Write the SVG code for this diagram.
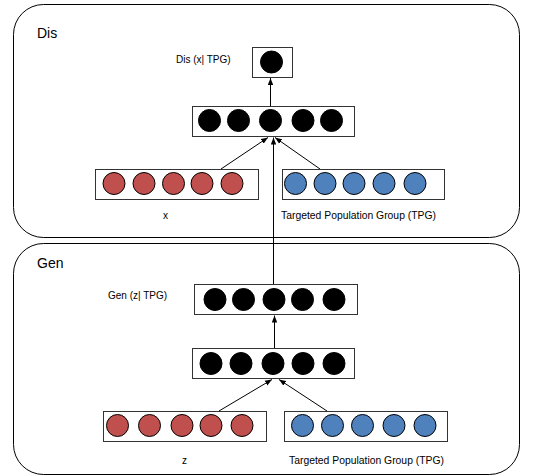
<svg xmlns="http://www.w3.org/2000/svg" width="535" height="476" viewBox="0 0 535 476">
<style>
.panel{fill:#fff;stroke:#000;stroke-width:1}
.box{fill:#fff;stroke:#333;stroke-width:1}
.k{fill:#000;stroke:#000;stroke-width:1}
.r{fill:#c0504d;stroke:#000;stroke-width:1}
.b{fill:#4f81bd;stroke:#000;stroke-width:1}
.t{font-family:"Liberation Sans",Arial,sans-serif;font-size:10px;fill:#000}
.w{font-family:"Liberation Sans",Arial,sans-serif;font-size:10px;fill:#000}
.h{font-family:"Liberation Sans",Arial,sans-serif;font-size:14px;fill:#000}
.c{stroke:#000;stroke-width:1;fill:none;marker-end:url(#ah)}
</style>
<defs>
<marker id="ah" viewBox="0 0 7 6" refX="7" refY="3" markerWidth="7" markerHeight="6" markerUnits="userSpaceOnUse" orient="auto">
<path d="M0,0.3 L7,3 L0,5.7 Z" fill="#000"/>
</marker>
</defs>
<g id="dis-panel">
<rect class="panel" x="13.5" y="4.5" width="506" height="233" rx="30" ry="30"/>
<text class="h" x="37" y="38">Dis</text>
</g>
<g id="gen-panel">
<rect class="panel" x="13.5" y="243.5" width="506" height="231" rx="30" ry="30"/>
<text class="h" x="37" y="268">Gen</text>
</g>
<g id="dis-out">
<rect class="box" x="252.5" y="47.5" width="40" height="30"/>
<circle class="k" cx="271.5" cy="62" r="11"/>
<text class="t" x="176" y="63">Dis (x| TPG)</text>
</g>
<g id="dis-hidden">
<rect class="box" x="192.5" y="106.5" width="162" height="30"/>
<circle class="k" cx="209.5" cy="120.5" r="11"/>
<circle class="k" cx="238.5" cy="120.5" r="11"/>
<circle class="k" cx="270.5" cy="120.5" r="11"/>
<circle class="k" cx="303" cy="120.5" r="11"/>
<circle class="k" cx="331.5" cy="120.5" r="11"/>
</g>
<g id="dis-x">
<rect class="box" x="95.5" y="169.5" width="163" height="30"/>
<circle class="r" cx="114" cy="183.5" r="11"/>
<circle class="r" cx="144" cy="183.5" r="11"/>
<circle class="r" cx="173.5" cy="183.5" r="11"/>
<circle class="r" cx="202" cy="183.5" r="11"/>
<circle class="r" cx="232" cy="183.5" r="11"/>
<text class="t" x="163" y="219">x</text>
</g>
<g id="dis-tpg">
<rect class="box" x="282.5" y="169.5" width="162" height="30"/>
<circle class="b" cx="295.5" cy="183.5" r="11"/>
<circle class="b" cx="325" cy="183.5" r="11"/>
<circle class="b" cx="354" cy="183.5" r="11"/>
<circle class="b" cx="384" cy="183.5" r="11"/>
<circle class="b" cx="415" cy="183.5" r="11"/>
<text class="w" x="281" y="219" textLength="155" lengthAdjust="spacingAndGlyphs">Targeted Population Group (TPG)</text>
</g>
<g id="gen-out">
<rect class="box" x="194.5" y="284.5" width="163" height="30"/>
<circle class="k" cx="215" cy="299.5" r="11"/>
<circle class="k" cx="243.5" cy="299.5" r="11"/>
<circle class="k" cx="274" cy="299.5" r="11"/>
<circle class="k" cx="302.5" cy="299.5" r="11"/>
<circle class="k" cx="334" cy="299.5" r="11"/>
<text class="t" x="108" y="299">Gen (z| TPG)</text>
</g>
<g id="gen-hidden">
<rect class="box" x="192.5" y="348.5" width="162" height="30"/>
<circle class="k" cx="211" cy="363.5" r="11"/>
<circle class="k" cx="241" cy="363.5" r="11"/>
<circle class="k" cx="273" cy="363.5" r="11"/>
<circle class="k" cx="303" cy="363.5" r="11"/>
<circle class="k" cx="334" cy="363.5" r="11"/>
</g>
<g id="gen-z">
<rect class="box" x="103.5" y="411.5" width="163" height="30"/>
<circle class="r" cx="117.5" cy="425.5" r="11"/>
<circle class="r" cx="149.5" cy="425.5" r="11"/>
<circle class="r" cx="182" cy="425.5" r="11"/>
<circle class="r" cx="211" cy="425.5" r="11"/>
<circle class="r" cx="242" cy="425.5" r="11"/>
<text class="t" x="182" y="464">z</text>
</g>
<g id="gen-tpg">
<rect class="box" x="284.5" y="411.5" width="163" height="30"/>
<circle class="b" cx="302.5" cy="425.5" r="11"/>
<circle class="b" cx="332.5" cy="425.5" r="11"/>
<circle class="b" cx="362.5" cy="425.5" r="11"/>
<circle class="b" cx="394" cy="425.5" r="11"/>
<circle class="b" cx="425" cy="425.5" r="11"/>
<text class="w" x="289" y="464" textLength="155" lengthAdjust="spacingAndGlyphs">Targeted Population Group (TPG)</text>
</g>
<g id="connectors">
<path class="c" d="M270.5,106 L270.5,78"/>
<path class="c" d="M221,169 L268,137.5"/>
<path class="c" d="M320,169 L275,137.5"/>
<path class="c" d="M273.5,284 L273.5,137.5"/>
<path class="c" d="M274.5,348 L274.5,315.5"/>
<path class="c" d="M219,411 L272,379.5"/>
<path class="c" d="M327,411 L279,379.5"/>
</g>
</svg>
